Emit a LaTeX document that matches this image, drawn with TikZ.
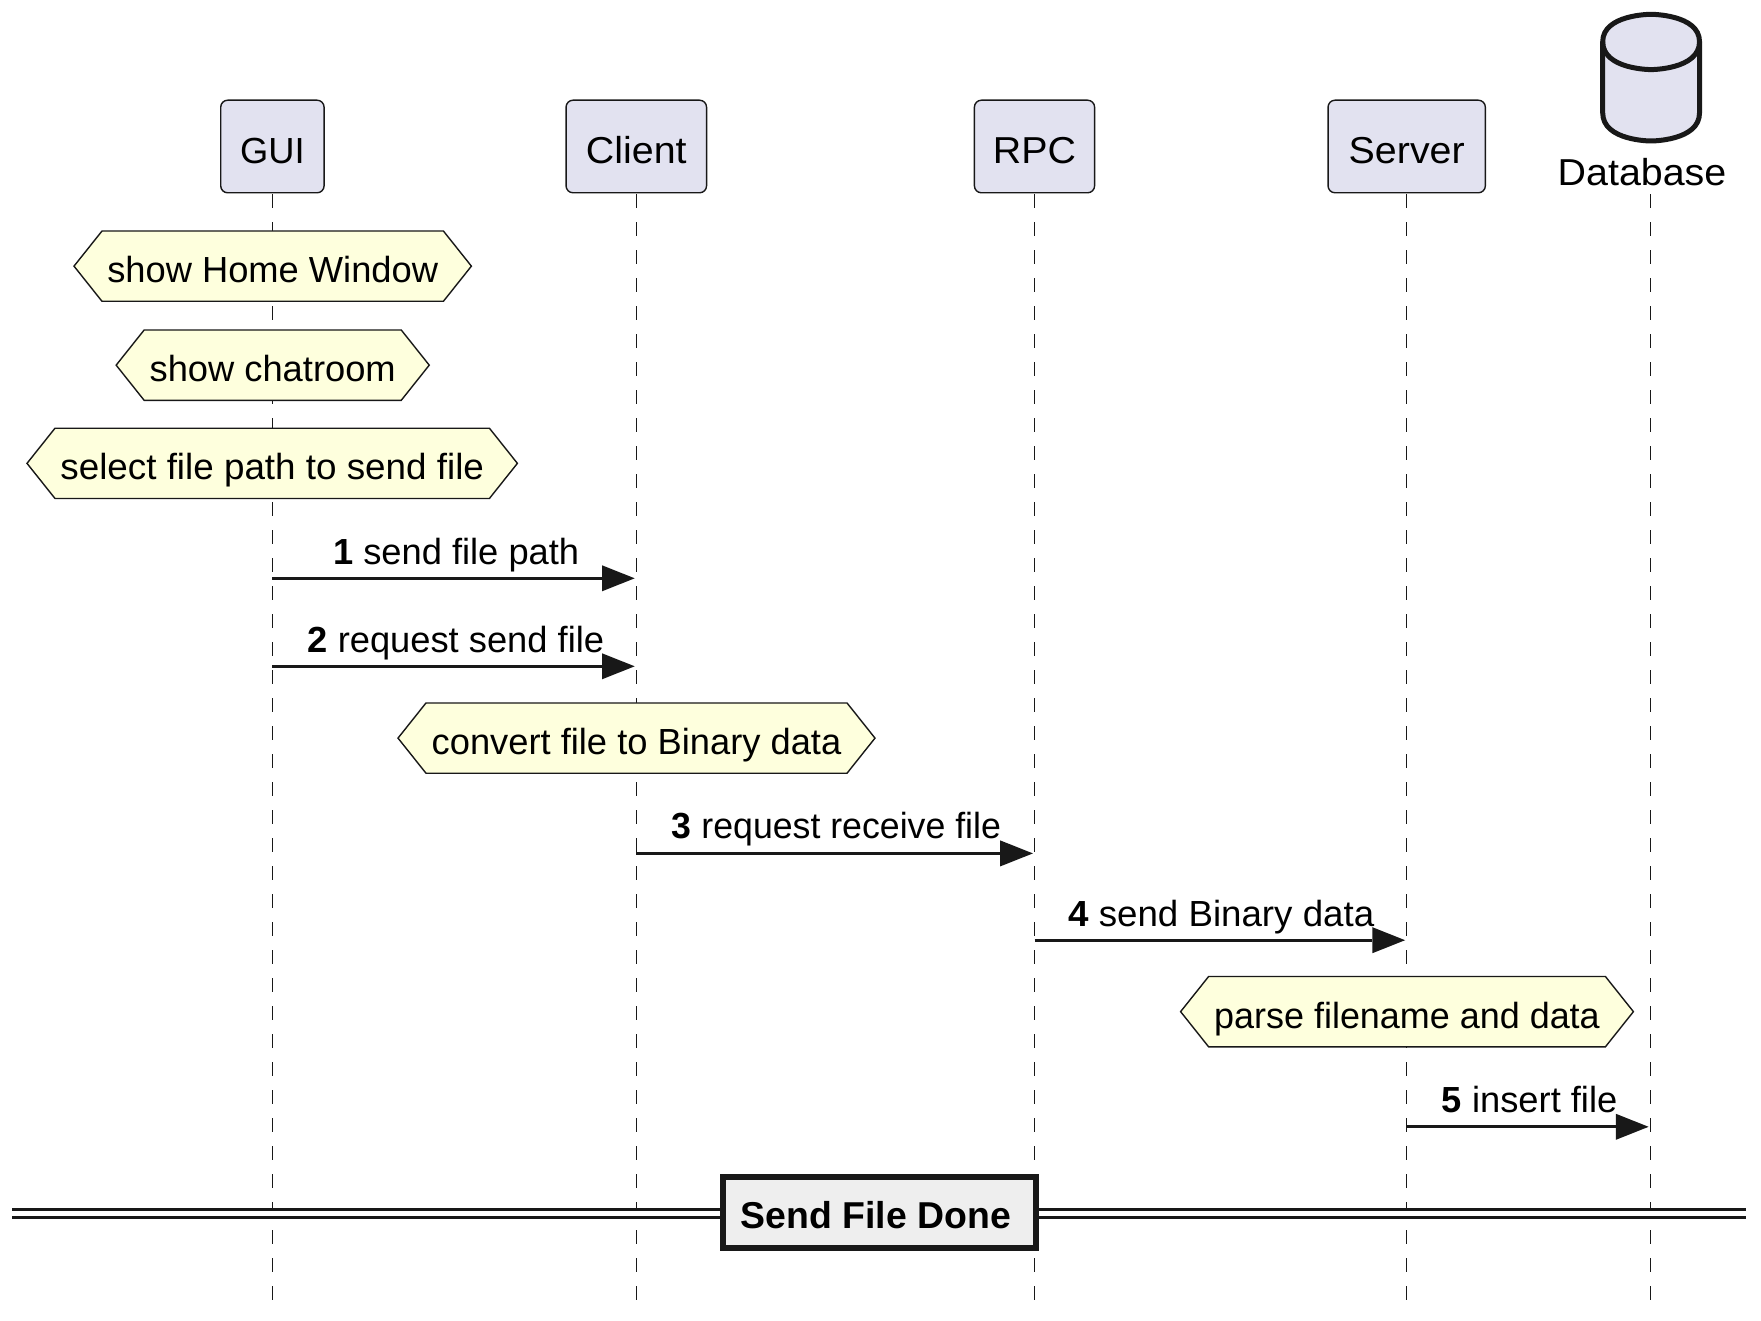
\documentclass[tikz,border=0pt]{standalone}
\usepackage{fontspec}
\setmainfont[Ligatures=NoCommon]{Liberation Sans}
\newfontfamily\actorfont[Ligatures=NoCommon,FakeStretch=1.05]{Liberation Sans}
\usetikzlibrary{arrows.meta}
\definecolor{ink}{HTML}{181818}
\definecolor{actorfill}{HTML}{E2E2F0}
\definecolor{notefill}{HTML}{FEFFDD}
\definecolor{dividerfill}{HTML}{EEEEEE}
\tikzset{
  lbl/.style={font=\fontsize{36.3}{40}\selectfont, text=black, inner sep=0pt, outer sep=0pt},
  biglbl/.style={lbl, font=\actorfont\fontsize{37.5}{40}\selectfont},
  actorbox/.style={biglbl, draw=ink, fill=actorfill, line width=1.4pt, rounded corners=7pt,
    minimum height=92.6pt, text height=40.4pt, text depth=7pt, anchor=center},
  noteshape/.style={draw=ink, fill=notefill, line width=1.4pt, line join=miter},
  notelabel/.style={lbl, text height=37.7pt, text depth=5pt, anchor=center},
  lifeline/.style={draw=ink, line width=1.3pt, dash pattern=on 14pt off 14pt, shorten <=1.6pt},
  msg/.style={draw=ink, line width=2.8pt, shorten >=1.6pt,
    -{Triangle[length=32.7pt,width=26pt,fill=ink,line width=0pt]}},
  msgtext/.style={lbl, anchor=base west},
  dbline/.style={draw=ink, line width=5pt, line join=round},
  divline/.style={draw=ink, line width=2.8pt},
  divbox/.style={lbl, draw=ink, fill=dividerfill, line width=5.6pt, anchor=center,
    minimum width=313.4pt, minimum height=71pt, text height=37pt, text depth=6pt,
    font=\fontsize{37.4}{40}\selectfont\bfseries}
}
\newcommand\notehexa[5]{%
  \path[noteshape] (#2-#4/2,#3) -- (#2-#4/2+28,#3-35.15) -- (#2+#4/2-28,#3-35.15)
    -- (#2+#4/2,#3) -- (#2+#4/2-28,#3+35.15) -- (#2-#4/2+28,#3+35.15) -- cycle;
  \node[notelabel] (#1) at (#2,#3) {#5};}
\begin{document}
\begin{tikzpicture}[x=1pt,y=-1pt]
\useasboundingbox (0,0) rectangle (1761,1321);
% lifeline ends
\coordinate (guiEnd) at (272.4,1300);
\coordinate (cliEnd) at (636.3,1300);
\coordinate (rpcEnd) at (1034.5,1300);
\coordinate (srvEnd) at (1406.7,1300);
\coordinate (dbEnd) at (1650.2,1300);
\coordinate (dbTop) at (1650.2,194.4);
% participants
\node[actorbox, font=\fontsize{36.3}{40}\selectfont, minimum width=103.4pt] (gui) at (272.4,146.5) {GUI};
\node[actorbox, minimum width=140.5pt] (cli) at (636.3,146.5) {Client};
\node[actorbox, minimum width=120.2pt] (rpc) at (1034.5,146.5) {RPC};
\node[actorbox, minimum width=157.3pt] (srv) at (1406.7,146.5) {Server};
% database
\path[dbline, fill=actorfill] (1602.7,41.7)
  .. controls (1602.7,14.3) and (1651,14.3) .. (1651,14.3)
  .. controls (1651,14.3) and (1699.5,14.3) .. (1699.5,41.7)
  -- (1699.5,113)
  .. controls (1699.5,141) and (1651,141) .. (1651,141)
  .. controls (1651,141) and (1602.7,141) .. (1602.7,113)
  -- cycle;
\path[dbline] (1602.7,41.7)
  .. controls (1602.7,69.6) and (1651,69.6) .. (1651,69.6)
  .. controls (1651,69.6) and (1699.5,69.6) .. (1699.5,41.7);
\node[biglbl, anchor=base] (dbl) at (1642,185.5) {Database};
% lifelines
\draw[lifeline] (gui.south) -- (guiEnd);
\draw[lifeline] (cli.south) -- (cliEnd);
\draw[lifeline] (rpc.south) -- (rpcEnd);
\draw[lifeline] (srv.south) -- (srvEnd);
\draw[lifeline, shorten <=0pt] (dbTop) -- (dbEnd);
% notes
\notehexa{n1}{272.7}{266.15}{397.4}{show Home Window}
\notehexa{n2}{272.7}{365.15}{313.1}{show chatroom}
\notehexa{n3}{272.2}{463.35}{490.4}{\scalebox{1.014}[1]{select file path to send file}}
\notehexa{n4}{636.5}{738.1}{477}{convert file to Binary data}
\notehexa{n5}{1407}{1011.65}{452.8}{\scalebox{0.99}[1]{parse filename and data}}
% messages
\coordinate (m1s) at (272.4,578.3);  \coordinate (m1e) at (636.3,578.3);
\coordinate (m2s) at (272.4,666.3);  \coordinate (m2e) at (636.3,666.3);
\coordinate (m3s) at (636.3,853.4);  \coordinate (m3e) at (1034.5,853.4);
\coordinate (m4s) at (1034.5,940.2); \coordinate (m4e) at (1406.7,940.2);
\coordinate (m5s) at (1406.7,1126.8);\coordinate (m5e) at (1650.2,1126.8);
\draw[msg] (m1s) -- (m1e);
\draw[msg] (m2s) -- (m2e);
\draw[msg] (m3s) -- (m3e);
\draw[msg] (m4s) -- (m4e);
\draw[msg] (m5s) -- (m5e);
\node[msgtext] (t1) at (333,564.5) {\textbf{1} send file path};
\node[msgtext] (t2) at (307.5,652) {\textbf{2} request send file};
\node[msgtext] (t3) at (671.7,838.8) {\scalebox{0.983}[1]{\textbf{3} request receive file}};
\node[msgtext] (t4) at (1068.2,926) {\scalebox{1.011}[1]{\textbf{4} send Binary data}};
\node[msgtext] (t5) at (1441.8,1112.6) {\textbf{5} insert file};
% divider
\coordinate (divL) at (12.3,1213.7);
\coordinate (divR) at (1745.7,1213.7);
\fill[white] (12.3,1209.7) rectangle (1745.7,1217.7);
\draw[divline] (12.3,1209.7) -- (1745.7,1209.7);
\draw[divline] (12.3,1217.7) -- (1745.7,1217.7);
\node[divbox] (div) at (879.5,1212.6) {\hspace*{-7pt}Send File Done};
\end{tikzpicture}
\end{document}
